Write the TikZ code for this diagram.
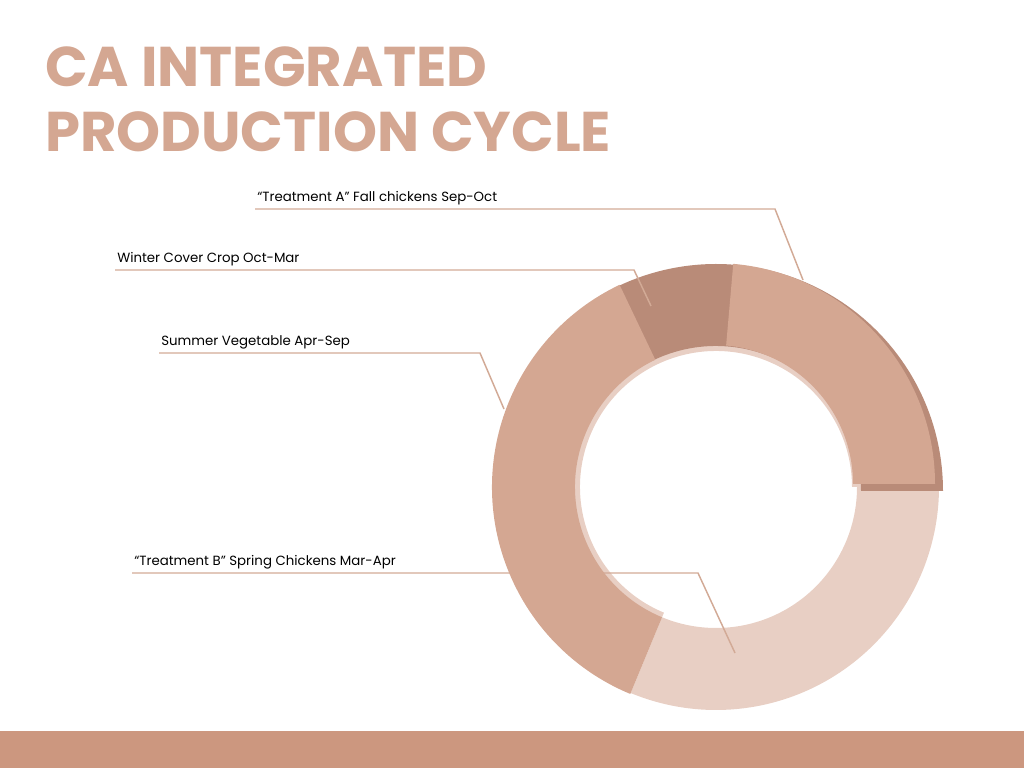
\documentclass[tikz,border=0pt]{standalone}
\usepackage{fontspec}
\usepackage{xcolor}
\usepackage{tikz}
\usetikzlibrary{positioning,calc}

\newfontfamily\lblfont{Poppins}
\newfontfamily\ttlfont{Poppins}

\definecolor{ringmid}{HTML}{D4A792}
\definecolor{ringdark}{HTML}{B98B78}
\definecolor{ringlight}{HTML}{E8CFC4}
\definecolor{barcol}{HTML}{CC977F}
\definecolor{leadcol}{HTML}{D2AA96}

% one piece of the ring: colour, centre x, centre y, from angle, to angle, inner r, outer r
\newcommand{\ringseg}[7]{%
  \fill[#1] (#2,#3) ++(#4:#7) arc[start angle=#4, end angle=#5, radius=#7]
    -- ($(#2,#3)+(#5:#6)$) arc[start angle=#5, end angle=#4, radius=#6] -- cycle;}

\begin{document}
\begin{tikzpicture}[
    x=0.75pt, y=0.75pt,
    title/.style={anchor=base west, inner sep=0pt, text=ringmid, font=\ttlfont\bfseries\fontsize{42}{42}\selectfont},  % Style for the heading
    lbl/.style={inner sep=0pt, font=\lblfont\fontsize{10}{12}\selectfont},                  % Style for the labels
    leader/.style={draw=leadcol, line width=1.1pt}                                          % Style for the label lines
    ]
    \useasboundingbox (0,0) rectangle (1024,768);

    % Heading
    \node[title] (title1) at (45,681) {CA INTEGRATED};
    \node[title] (title2) at (45,616) {PRODUCTION CYCLE};

    % Bottom band
    \fill[barcol] (0,0) rectangle (1024,37);

    % Ring: light parts first, then the dark one
    \ringseg{ringlight}{716}{281}{0}{247.5}{136}{150}
    \ringseg{ringlight}{716}{281}{-112.5}{0}{141}{223}
    \ringseg{ringdark}{716}{277}{0}{115.5}{145}{227}

    % Ends of the label lines
    \coordinate (startA) at (255,559);
    \coordinate (kneeA) at (775,559);
    \coordinate (endA) at (803,488);
    \coordinate (startW) at (115,498);
    \coordinate (kneeW) at (634,498);
    \coordinate (endW) at (651,462);
    \coordinate (startS) at (159,415);
    \coordinate (kneeS) at (480,415);
    \coordinate (endS) at (504,359);
    \coordinate (startB) at (132,195);
    \coordinate (kneeB) at (698,195);
    \coordinate (endB) at (735,115);

    % Label lines
    \draw[leader] (startA) -- (kneeA) -- (endA);
    \draw[leader] (startW) -- (kneeW) -- (endW);
    \draw[leader] (startS) -- (kneeS) -- (endS);
    \draw[leader] (startB) -- (kneeB) -- (endB);

    % Ring: the two mid parts on top
    \ringseg{ringmid}{716}{281}{115.5}{247.5}{141}{224}
    \ringseg{ringmid}{714}{284}{0}{85}{139}{221}

    % Labels above the lines
    \node[lbl, above right=3pt and 1.5pt of startA] (labA) {“Treatment A” Fall chickens Sep-Oct};
    \node[lbl, above right=3pt and 1.5pt of startW] (labW) {Winter Cover Crop Oct-Mar};
    \node[lbl, above right=3pt and 1.5pt of startS] (labS) {Summer Vegetable Apr-Sep};
    \node[lbl, above right=3pt and 1.5pt of startB] (labB) {“Treatment B” Spring Chickens Mar-Apr};

\end{tikzpicture}
\end{document}
